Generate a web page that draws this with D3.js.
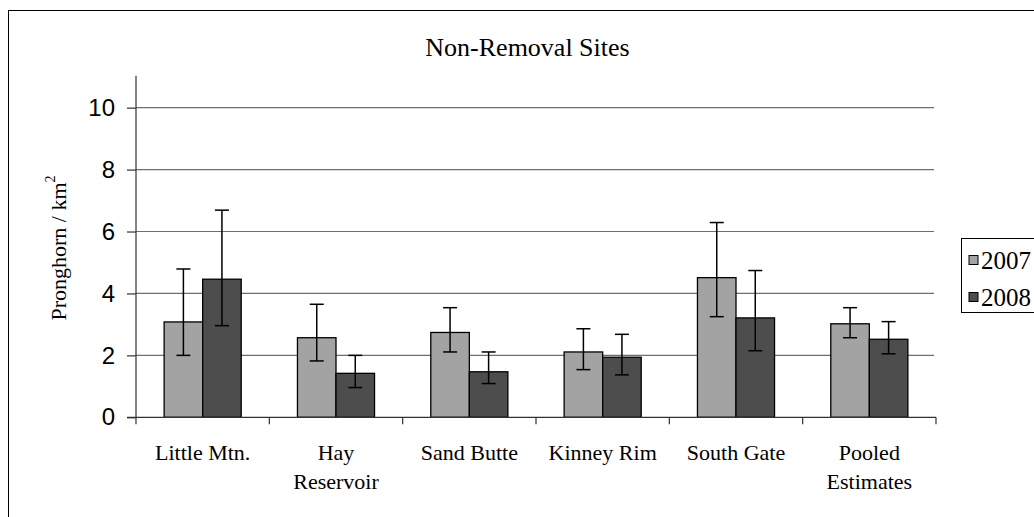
<!DOCTYPE html>
<html>
<head>
<meta charset="utf-8">
<script src="https://cdn.jsdelivr.net/npm/d3@7"></script>
<style>
  html, body { margin: 0; padding: 0; background: #fff; }
  svg { display: block; }
</style>
</head>
<body>
<svg id="chart" width="1034" height="517"></svg>
<script>
// ---- data ----
const categories = [["Little Mtn."], ["Hay", "Reservoir"], ["Sand Butte"], ["Kinney Rim"], ["South Gate"], ["Pooled", "Estimates"]];
const series = ["2007", "2008"];
const values2007 = [3.08, 2.57, 2.74, 2.11, 4.51, 3.02];
const values2008 = [4.46, 1.42, 1.47, 1.94, 3.21, 2.52];
const upper2007 = [4.79, 3.65, 3.54, 2.86, 6.29, 3.54];
const lower2007 = [2.00, 1.82, 2.11, 1.54, 3.25, 2.57];
const upper2008 = [6.69, 2.00, 2.11, 2.68, 4.74, 3.09];
const lower2008 = [2.96, 0.96, 1.09, 1.37, 2.15, 2.05];
const yTicks = [0, 2, 4, 6, 8, 10];
const colors = ["#a3a3a3", "#4d4d4d"];

// ---- layout ----
const svg = d3.select("#chart");
const plotLeft = 136, plotRight = 936, plotTop = 76.7, plotBottom = 417.3;

// outer frame
svg.append("rect").attr("x", 8.5).attr("y", 10.5).attr("width", 1100).attr("height", 600)
  .attr("fill", "none").attr("stroke", "#000").attr("stroke-width", 1);

const catKeys = categories.map(c => c.join(" "));
const x = d3.scaleBand().domain(catKeys).range([plotLeft, plotRight]).padding(0);
const inner = d3.scaleBand().domain(series).range([0, x.bandwidth()]).paddingInner(0).paddingOuter(0.73);
const y = d3.scaleLinear().domain([0, 11]).range([plotBottom, plotTop]);

// gridlines
svg.append("g").selectAll("line").data(yTicks.filter(d => d > 0)).join("line")
  .attr("x1", plotLeft).attr("x2", plotRight - 2)
  .attr("y1", d => y(d)).attr("y2", d => y(d))
  .attr("stroke", "#6e6e6e").attr("stroke-width", 1.2);

// bars
const rows = catKeys.map((k, i) => ({
  key: k,
  vals: [
    { s: "2007", v: values2007[i], hi: upper2007[i], lo: lower2007[i], c: colors[0] },
    { s: "2008", v: values2008[i], hi: upper2008[i], lo: lower2008[i], c: colors[1] }
  ]
}));

const groups = svg.append("g").selectAll("g").data(rows).join("g")
  .attr("transform", d => `translate(${x(d.key)},0)`);

groups.selectAll("rect").data(d => d.vals).join("rect")
  .attr("x", d => inner(d.s))
  .attr("y", d => y(d.v))
  .attr("width", inner.bandwidth())
  .attr("height", d => y(0) - y(d.v))
  .attr("fill", d => d.c)
  .attr("stroke", "#000").attr("stroke-width", 1.3);

// error bars
const eb = groups.selectAll("g.err").data(d => d.vals).join("g").attr("class", "err");
const capW = 7;
eb.append("line")
  .attr("x1", d => inner(d.s) + inner.bandwidth() / 2).attr("x2", d => inner(d.s) + inner.bandwidth() / 2)
  .attr("y1", d => y(d.hi)).attr("y2", d => y(d.lo))
  .attr("stroke", "#000").attr("stroke-width", 1.5);
eb.append("line")
  .attr("x1", d => inner(d.s) + inner.bandwidth() / 2 - capW).attr("x2", d => inner(d.s) + inner.bandwidth() / 2 + capW)
  .attr("y1", d => y(d.hi)).attr("y2", d => y(d.hi))
  .attr("stroke", "#000").attr("stroke-width", 1.5);
eb.append("line")
  .attr("x1", d => inner(d.s) + inner.bandwidth() / 2 - capW).attr("x2", d => inner(d.s) + inner.bandwidth() / 2 + capW)
  .attr("y1", d => y(d.lo)).attr("y2", d => y(d.lo))
  .attr("stroke", "#000").attr("stroke-width", 1.5);

// y axis
const yAxis = d3.axisLeft(y).tickValues(yTicks).tickSize(9).tickPadding(12).tickFormat(d3.format("d"));
const yg = svg.append("g").attr("transform", `translate(${plotLeft},0)`).call(yAxis);
yg.select(".domain").attr("stroke", "#333").attr("stroke-width", 1.2).attr("d", `M-0,${plotBottom}V${plotTop - 1}`);
yg.selectAll(".tick line").attr("stroke", "#333").attr("stroke-width", 1.2);
yg.selectAll(".tick text").attr("font-family", "Liberation Sans, Arial, sans-serif").attr("font-size", 24).attr("fill", "#000");

// x axis
const xg = svg.append("g").attr("transform", `translate(0,${plotBottom})`);
xg.append("line").attr("x1", plotLeft - 9).attr("x2", plotRight).attr("y1", 0).attr("y2", 0)
  .attr("stroke", "#333").attr("stroke-width", 1.2);
const boundaries = catKeys.map(k => x(k)).concat([plotRight]);
xg.selectAll("line.tk").data(boundaries).join("line").attr("class", "tk")
  .attr("x1", d => d).attr("x2", d => d).attr("y1", 0).attr("y2", 7)
  .attr("stroke", "#333").attr("stroke-width", 1.2);

const lbl = svg.append("g").selectAll("text").data(categories).join("text")
  .attr("x", (d, i) => x(catKeys[i]) + x.bandwidth() / 2)
  .attr("y", 460)
  .attr("text-anchor", "middle")
  .attr("font-family", "Liberation Serif, Times New Roman, serif")
  .attr("font-size", 22).attr("fill", "#000");
lbl.selectAll("tspan").data(d => d).join("tspan")
  .attr("x", function () { return d3.select(this.parentNode).attr("x"); })
  .attr("dy", (d, i) => i === 0 ? 0 : 29)
  .text(d => d);

// title
svg.append("text").attr("x", 527.5).attr("y", 55.5).attr("text-anchor", "middle")
  .attr("font-family", "Liberation Serif, Times New Roman, serif").attr("font-size", 26)
  .attr("fill", "#000").text("Non-Removal Sites");

// y label
const yl = svg.append("text").attr("transform", "translate(66,248) rotate(-90)")
  .attr("text-anchor", "middle")
  .attr("font-family", "Liberation Serif, Times New Roman, serif").attr("font-size", 22).attr("fill", "#000");
yl.append("tspan").text("Pronghorn / km");
yl.append("tspan").attr("font-size", 14).attr("dy", -11).text("2");

// legend
const lg = svg.append("g");
lg.append("rect").attr("x", 961.5).attr("y", 238.5).attr("width", 120).attr("height", 74)
  .attr("fill", "#fff").attr("stroke", "#000").attr("stroke-width", 1);
const li = lg.selectAll("g.li").data(series).join("g").attr("class", "li")
  .attr("transform", (d, i) => `translate(0,${260 + i * 37})`);
li.append("rect").attr("x", 969).attr("y", -4.5).attr("width", 9).attr("height", 9)
  .attr("fill", (d, i) => colors[i]).attr("stroke", "#000").attr("stroke-width", 1);
li.append("text").attr("x", 981).attr("y", 8.5)
  .attr("font-family", "Liberation Serif, Times New Roman, serif").attr("font-size", 25).attr("fill", "#000")
  .text(d => d);
</script>
</body>
</html>
